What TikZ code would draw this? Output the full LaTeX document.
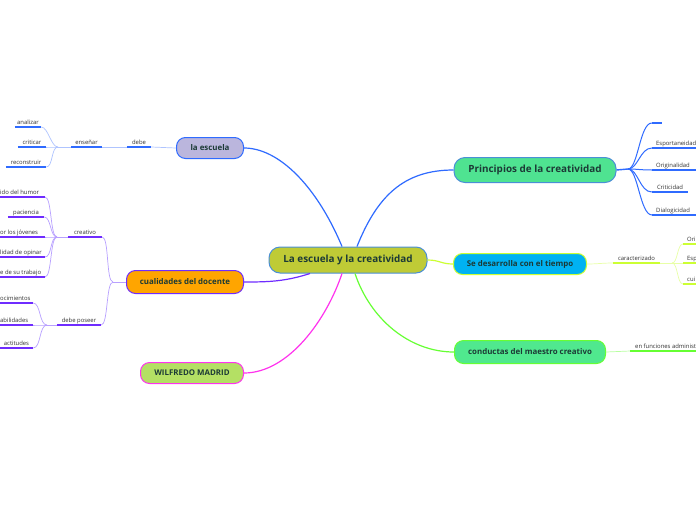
\documentclass[tikz,border=0pt]{standalone}
\usepackage{fontspec}
\setmainfont{Open Sans}
\usepackage{xcolor}
\usepackage{tikz}

\definecolor{nodetext}{HTML}{1C3A36}
\definecolor{leaftext}{HTML}{333333}
\definecolor{rootfill}{HTML}{BFCB36}
\definecolor{rootdraw}{HTML}{4A8FD6}
\definecolor{escfill}{HTML}{BBB6DD}
\definecolor{prinfill}{HTML}{4FE391}
\definecolor{timefill}{HTML}{00B2F2}
\definecolor{condfill}{HTML}{50E88E}
\definecolor{cualfill}{HTML}{FFA500}
\definecolor{wilffill}{HTML}{B4E064}
\definecolor{blueline}{HTML}{2F6BFF}
\definecolor{paleblue}{HTML}{AFC4FF}
\definecolor{purpleline}{HTML}{6F2CFF}
\definecolor{palepurple}{HTML}{B8A0FF}
\definecolor{limeline}{HTML}{CCFF33}
\definecolor{palelime}{HTML}{E8FFA6}
\definecolor{greenline}{HTML}{66FF33}
\definecolor{palegreen}{HTML}{B8FFA0}
\definecolor{magentaline}{HTML}{FF33EE}

\begin{document}
\begin{tikzpicture}[
        x=1pt, y=-1pt,
        topic/.style={draw, line width=1pt, rounded corners=9pt, inner sep=0pt,
            font=\bfseries\fontsize{7.9}{9}\selectfont, text=nodetext},
        big topic/.style={topic, rounded corners=11pt,
            font=\bfseries\fontsize{9.9}{11}\selectfont},
        leaf/.style={font=\fontsize{5.9}{7}\selectfont, text=leaftext,
            inner xsep=0pt, inner ysep=1.3pt, text height=4.4pt, text depth=1.2pt,
            anchor=south},
        main line/.style={line width=1.2pt},
        twig/.style={line width=0.7pt},
        underline/.style={line width=1.4pt},
    ]
    \useasboundingbox (0,0) rectangle (696,520);
    \fill[white] (0,0) rectangle (696,520);
    \coordinate (leftEdge) at (0,0);
    \coordinate (rightEdge) at (696,0);

    % topics
    \node[big topic, fill=rootfill, draw=rootdraw, minimum width=158pt,
          minimum height=26pt] (root) at (348,260) {La escuela y la creatividad};
    \node[topic, fill=escfill, draw=blueline, minimum width=67pt,
          minimum height=21pt] (esc) at (210,148) {la escuela};
    \node[big topic, fill=prinfill, draw=rootdraw, minimum width=162pt,
          minimum height=25pt] (prin) at (535,170) {Principios de la creatividad};
    \node[topic, fill=timefill, draw=limeline, minimum width=133pt,
          minimum height=21pt] (tiempo) at (520,264) {Se desarrolla con el tiempo};
    \node[topic, fill=condfill, draw=greenline, minimum width=151pt,
          minimum height=23pt] (conducta) at (530,352) {conductas del maestro creativo};
    \node[topic, fill=cualfill, draw=purpleline, minimum width=117pt,
          minimum height=23pt] (cual) at (185,282) {cualidades del docente};
    \node[topic, fill=wilffill, draw=magentaline, minimum width=103pt,
          minimum height=21pt] (wilf) at (192,373) {WILFREDO MADRID};

    % main connectors
    \draw[main line, blueline] ([xshift=-6pt]root.north)
        .. controls +(-25,-60) and +(35,0) .. (esc.east);
    \draw[main line, blueline] ([xshift=9pt]root.north)
        .. controls +(20,-50) and +(-50,0) .. (prin.west);
    \draw[main line, limeline] (root.east)
        .. controls +(12,0) and +(-12,0) .. (tiempo.west);
    \draw[main line, greenline] ([xshift=7pt]root.south)
        .. controls +(15,45) and +(-45,0) .. (conducta.west);
    \draw[main line, purpleline] ([xshift=-38pt]root.south)
        .. controls +(-25,8) and +(25,0) .. (cual.east);
    \draw[main line, magentaline] ([xshift=-6pt]root.south)
        .. controls +(-15,45) and +(45,0) .. (wilf.east);

    % la escuela
    \node[leaf, minimum width=24pt] (debe) at (139,147) {debe};
    \node[leaf, minimum width=31pt] (ense) at (86.5,147) {enseñar};
    \node[leaf, minimum width=26pt] (anal) at (28,127) {analizar};
    \node[leaf, minimum width=28pt] (crit) at (32,147) {criticar};
    \node[leaf, minimum width=40pt] (recon) at (26,167) {reconstruir};
    \coordinate (escFork) at (58,147);
    \draw[twig, paleblue] (esc.west) -- (debe.south east);
    \draw[twig, paleblue] (debe.south west) -- (ense.south east);
    \draw[twig, paleblue] (ense.south west) -- (escFork);
    \foreach \n in {anal,crit,recon}
        \draw[twig, paleblue] (escFork) .. controls +(-7,0) and +(7,0) .. (\n.south east);
    \foreach \n in {debe,ense,anal,crit,recon}
        \draw[underline, blueline] (\n.south west) -- (\n.south east);

    % cualidades del docente
    \node[leaf, minimum width=34pt] (creativo) at (85,237) {creativo};
    \node[leaf, minimum width=44pt] (poseer) at (79,325) {debe poseer};
    \node[leaf, anchor=south west] (humor) at (0,197) {ido del humor};
    \node[leaf, minimum width=36pt] (paci) at (26,217) {paciencia};
    \node[leaf, anchor=south west] (joven) at (0,237) {or los jóvenes};
    \node[leaf, anchor=south west] (opinar) at (0,257) {lidad de opinar};
    \node[leaf, anchor=south west] (trabajo) at (0,277) {e de su trabajo};
    \node[leaf, anchor=south west] (conoc) at (0,303) {ocimientos};
    \node[leaf, anchor=south west] (habil) at (0,325) {abilidades};
    \node[leaf, minimum width=33pt] (acti) at (16.5,348) {actitudes};
    \coordinate (cualFork) at (113,282);
    \coordinate (creaFork) at (57,237);
    \coordinate (poseFork) at (47,325);
    \coordinate (creaEnd) at (45,0);
    \coordinate (poseEnd) at (33,0);
    \draw[twig, palepurple] (cual.west) -- (cualFork);
    \foreach \n in {creativo,poseer}
        \draw[twig, palepurple] (cualFork) .. controls +(-7,0) and +(7,0) .. (\n.south east);
    \draw[twig, palepurple] (creativo.south west) -- (creaFork);
    \draw[twig, palepurple] (poseer.south west) -- (poseFork);
    \foreach \n in {humor,joven,opinar,trabajo}
        \draw[twig, palepurple] (creaFork) .. controls +(-7,0) and +(7,0) .. (\n.south -| creaEnd);
    \draw[twig, palepurple] (creaFork) .. controls +(-7,0) and +(7,0) .. (paci.south east);
    \foreach \n in {conoc,habil}
        \draw[twig, palepurple] (poseFork) .. controls +(-8,0) and +(8,0) .. (\n.south -| poseEnd);
    \draw[twig, palepurple] (poseFork) .. controls +(-8,0) and +(8,0) .. (acti.south east);
    \foreach \n in {creativo,poseer,paci,acti}
        \draw[underline, purpleline] (\n.south west) -- (\n.south east);
    \foreach \n in {humor,joven,opinar,trabajo}
        \draw[underline, purpleline] (\n.south -| leftEdge) -- (\n.south -| creaEnd);
    \foreach \n in {conoc,habil}
        \draw[underline, purpleline] (\n.south -| leftEdge) -- (\n.south -| poseEnd);

    % principios de la creatividad
    \node[leaf, minimum width=10pt] (blank) at (657,123) {};
    \node[leaf, anchor=south west] (espo) at (656,148) {Esportaneidad};
    \node[leaf, anchor=south west] (orig) at (656,170) {Originalidad};
    \node[leaf, minimum width=36pt] (criti) at (670,192) {Criticidad};
    \node[leaf, anchor=south west] (dialo) at (656,215) {Dialogicidad};
    \coordinate (prinFork) at (628,169);
    \draw[underline, blueline] (prin.east) -- (prinFork);
    \foreach \n in {blank,criti}
        \draw[twig, blueline, line width=1pt] (prinFork) .. controls +(10,0) and +(-12,0) .. (\n.south west);
    \foreach \n in {espo,orig,dialo}
        \draw[twig, blueline, line width=1pt] (prinFork) .. controls +(10,0) and +(-12,0) .. ([xshift=-4pt]\n.south west);
    \foreach \n in {blank,criti}
        \draw[underline, blueline] (\n.south west) -- (\n.south east);
    \foreach \n in {espo,orig,dialo}
        \draw[underline, blueline] ([xshift=-4pt]\n.south west) -- (\n.south -| rightEdge);

    % se desarrolla con el tiempo
    \node[leaf, minimum width=47pt] (carac) at (636.5,263) {caracterizado};
    \node[leaf, anchor=south west] (ori) at (687,244) {Ori};
    \node[leaf, anchor=south west] (esp) at (687,263) {Esp};
    \node[leaf, anchor=south west] (cui) at (687,284) {cui};
    \coordinate (timeFork) at (672,263);
    \draw[twig, palelime] (tiempo.east) .. controls +(10,0) and +(-10,0) .. (carac.south west);
    \draw[twig, palelime] (carac.south east) -- (timeFork);
    \foreach \n in {ori,esp,cui}
        \draw[twig, palelime] (timeFork) .. controls +(6,0) and +(-6,0) .. ([xshift=-4pt]\n.south west);
    \draw[underline, limeline] (carac.south west) -- (carac.south east);
    \foreach \n in {ori,esp,cui}
        \draw[underline, limeline] ([xshift=-4pt]\n.south west) -- (\n.south -| rightEdge);

    % conductas del maestro creativo
    \node[leaf, anchor=south west] (func) at (635,351) {en funciones administ};
    \draw[twig, palegreen] (conducta.east) .. controls +(12,0) and +(-12,0) .. ([xshift=-5pt]func.south west);
    \draw[underline, greenline] ([xshift=-5pt]func.south west) -- (func.south -| rightEdge);
\end{tikzpicture}
\end{document}
